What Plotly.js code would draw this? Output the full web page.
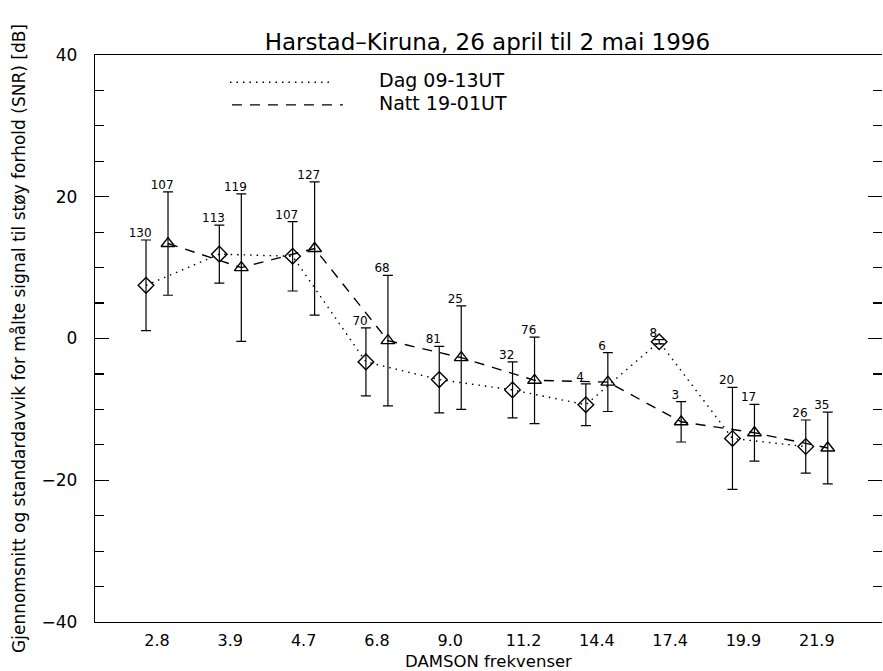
<!DOCTYPE html>
<html>
<head>
<meta charset="utf-8">
<script src="https://cdn.plot.ly/plotly-3.0.1.min.js"></script>
<style>html,body{margin:0;padding:0;background:#fff;overflow:hidden}</style>
</head>
<body>
<div id="chart" style="width:883px;height:671px"></div>
<script>
// Frequencies (tick labels)
const freqLabels = ["2.8", "3.9", "4.7", "6.8", "9.0", "11.2", "14.4", "17.4", "19.9", "21.9"];
// Dag 09-13UT
const dagMean = [7.5, 11.9, 11.6, -3.3, -5.8, -7.25, -9.35, -0.45, -14.1, -15.25];
const dagSd   = [6.4, 4.1, 4.9, 4.8, 4.7, 3.95, 2.95, 0.3, 7.2, 3.75];
const dagN    = [130, 113, 107, 70, 81, 32, 4, 8, 20, 26];
// Natt 19-01UT
const nattMean = [13.4, 10.0, 12.7, -0.3, -2.7, -5.9, -6.15, -11.75, -13.3, -15.45];
const nattSd   = [7.3, 10.4, 9.4, 9.2, 7.3, 6.1, 4.15, 2.85, 4.0, 5.05];
const nattN    = [107, 119, 127, 68, 25, 76, 6, 3, 17, 35];

const idx = freqLabels.map((_, i) => i + 1);
const off = 0.15;
const dagX = idx.map(v => v - off);
const nattX = idx.map(v => v + off);
const FONT = "DejaVu Sans, sans-serif";

const traces = [
  {
    x: dagX, y: dagMean, name: "Dag 09-13UT", type: "scatter", mode: "lines+markers",
    line: {color: "#000", width: 1.4, dash: "1.5px,5px"},
    marker: {symbol: "diamond-open", size: 12, color: "#000", line: {width: 1.4}},
    error_y: {type: "data", array: dagSd, visible: true, color: "#000", thickness: 1.2, width: 5},
    showlegend: false
  },
  {
    x: nattX, y: nattMean, name: "Natt 19-01UT", type: "scatter", mode: "lines+markers",
    line: {color: "#000", width: 1.4, dash: "10px,8px"},
    marker: {symbol: "triangle-up-open", size: 12, color: "#000", line: {width: 1.4}},
    error_y: {type: "data", array: nattSd, visible: true, color: "#000", thickness: 1.2, width: 5},
    showlegend: false
  },
  {
    x: dagX.map(v => v - 0.08), y: dagMean.map((m, i) => m + dagSd[i]),
    text: dagN.map(String), mode: "text", type: "scatter", textposition: "top center",
    textfont: {family: FONT, size: 12, color: "#000"}, showlegend: false, hoverinfo: "skip"
  },
  {
    x: nattX.map(v => v - 0.08), y: nattMean.map((m, i) => m + nattSd[i]),
    text: nattN.map(String), mode: "text", type: "scatter", textposition: "top center",
    textfont: {family: FONT, size: 12, color: "#000"}, showlegend: false, hoverinfo: "skip"
  }
];

const layout = {
  width: 883, height: 671,
  margin: {l: 95, r: 1, t: 55, b: 49},
  paper_bgcolor: "#fff", plot_bgcolor: "#fff",
  font: {family: FONT, color: "#000"},
  title: {text: "Harstad\u2013Kiruna, 26 april til 2 mai 1996", font: {family: FONT, size: 23, color: "#000"},
          x: 0.552, xanchor: "center", y: 0.937, yanchor: "middle"},
  xaxis: {
    range: [0.154, 10.89], tickvals: idx, ticktext: freqLabels,
    showgrid: false, zeroline: false, showline: true, linecolor: "#000", linewidth: 1.3, mirror: true,
    ticks: "", ticklabelstandoff: 3, tickfont: {family: FONT, size: 16, color: "#000"},
    title: {text: "DAMSON frekvenser", font: {family: FONT, size: 16.5, color: "#000"}, standoff: 7}
  },
  yaxis: {
    range: [-40, 40], dtick: 20, showgrid: false, zeroline: false, showline: true, linecolor: "#000", linewidth: 1.3,
    ticks: "inside", ticklen: 14, tickwidth: 1.2, tickcolor: "#000",
    minor: {dtick: 5, ticks: "inside", ticklen: 9, tickwidth: 1.2, tickcolor: "#000"},
    ticklabelstandoff: 13, tickfont: {family: FONT, size: 17, color: "#000"},
    title: {text: "Gjennomsnitt og standardavvik for målte signal til støy forhold (SNR) [dB]",
            font: {family: FONT, size: 17, color: "#000"}, standoff: 11}
  },
  yaxis2: {
    range: [-40, 40], dtick: 20, overlaying: "y", side: "right", matches: "y",
    showgrid: false, zeroline: false, showline: false, showticklabels: false,
    ticks: "inside", ticklen: 14, tickwidth: 1.2, tickcolor: "#000",
    minor: {dtick: 5, ticks: "inside", ticklen: 9, tickwidth: 1.2, tickcolor: "#000"}
  },
  shapes: [
    {type: "line", xref: "paper", yref: "paper", x0: 0.1715, x1: 0.2986, y0: 0.952, y1: 0.952,
     line: {color: "#000", width: 1.4, dash: "1.5px,5px"}},
    {type: "line", xref: "paper", yref: "paper", x0: 0.174, x1: 0.315, y0: 0.912, y1: 0.912,
     line: {color: "#000", width: 1.4, dash: "10px,8px"}}
  ],
  annotations: [
    {text: "Dag 09-13UT", xref: "paper", yref: "paper", x: 0.358, y: 0.956, xanchor: "left", yanchor: "middle",
     showarrow: false, font: {family: FONT, size: 19, color: "#000"}},
    {text: "Natt 19-01UT", xref: "paper", yref: "paper", x: 0.358, y: 0.915, xanchor: "left", yanchor: "middle",
     showarrow: false, font: {family: FONT, size: 19, color: "#000"}}
  ]
};

// invisible trace to activate the right-side axis ticks
traces.push({x: [1], y: [0], yaxis: "y2", mode: "markers", marker: {opacity: 0}, showlegend: false, hoverinfo: "skip"});

Plotly.newPlot("chart", traces, layout, {displayModeBar: false, staticPlot: true});
</script>
</body>
</html>
